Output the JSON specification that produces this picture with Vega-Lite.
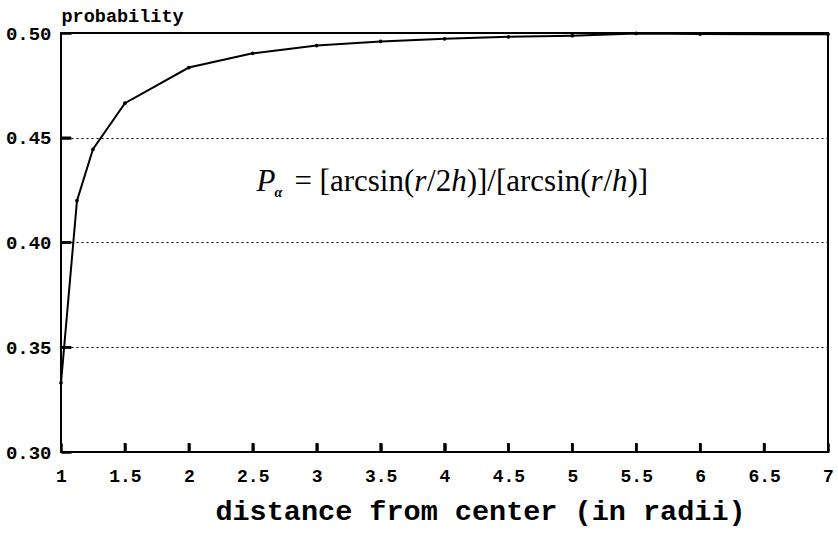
{
  "$schema": "https://vega.github.io/schema/vega-lite/v6.json",
  "width": 767,
  "height": 419,
  "autosize": {"type": "none"},
  "padding": {"left": 61, "top": 33, "right": 10, "bottom": 82},
  "background": "white",
  "config": {
    "view": {"stroke": "black", "strokeWidth": 2},
    "axis": {"domain": false},
    "text": {"baseline": "alphabetic", "align": "left", "font": "Liberation Serif", "fontSize": 31, "color": "black", "dy": 8}
  },
  "resolve": {"axis": {"x": "independent", "y": "independent"}},
  "datasets": {
    "curve": [
      {"d": 1.0, "p": 0.333},
      {"d": 1.125, "p": 0.420},
      {"d": 1.25, "p": 0.4445},
      {"d": 1.5, "p": 0.4665},
      {"d": 2.0, "p": 0.4835},
      {"d": 2.5, "p": 0.4903},
      {"d": 3.0, "p": 0.4940},
      {"d": 3.5, "p": 0.4960},
      {"d": 4.0, "p": 0.4972},
      {"d": 4.5, "p": 0.4982},
      {"d": 5.0, "p": 0.4987},
      {"d": 5.5, "p": 0.4998},
      {"d": 6.0, "p": 0.4995},
      {"d": 7.0, "p": 0.4994}
    ],
    "xticks": [
      {"d": 1.5, "p": 0.30}, {"d": 2, "p": 0.30}, {"d": 2.5, "p": 0.30}, {"d": 3, "p": 0.30},
      {"d": 3.5, "p": 0.30}, {"d": 4, "p": 0.30}, {"d": 4.5, "p": 0.30}, {"d": 5, "p": 0.30},
      {"d": 5.5, "p": 0.30}, {"d": 6, "p": 0.30}, {"d": 6.5, "p": 0.30}
    ],
    "yticks": [
      {"d": 1, "p": 0.35}, {"d": 1, "p": 0.40}, {"d": 1, "p": 0.45}
    ],
    "note": [
      {"d": 2.53, "p": 0.4286, "part": "P", "piece": 1},
      {"d": 2.53, "p": 0.4286, "part": "α", "piece": 2},
      {"d": 2.53, "p": 0.4286, "part": "=", "piece": 3},
      {"d": 2.53, "p": 0.4286, "part": "[arcsin(", "piece": 4},
      {"d": 2.53, "p": 0.4286, "part": "r", "piece": 5},
      {"d": 2.53, "p": 0.4286, "part": "/2", "piece": 6},
      {"d": 2.53, "p": 0.4286, "part": "h", "piece": 7},
      {"d": 2.53, "p": 0.4286, "part": ")]/[arcsin(", "piece": 8},
      {"d": 2.53, "p": 0.4286, "part": "r", "piece": 9},
      {"d": 2.53, "p": 0.4286, "part": "/", "piece": 10},
      {"d": 2.53, "p": 0.4286, "part": "h", "piece": 11},
      {"d": 2.53, "p": 0.4286, "part": ")]", "piece": 12}
    ]
  },
  "layer": [
    {
      "data": {"name": "curve"},
      "mark": {"type": "line", "color": "black", "strokeWidth": 2, "clip": true},
      "encoding": {
        "x": {
          "field": "d", "type": "quantitative",
          "scale": {"domain": [1, 7], "nice": false, "zero": false},
          "axis": {
            "orient": "bottom",
            "offset": -9,
            "values": [1, 1.5, 2, 2.5, 3, 3.5, 4, 4.5, 5, 5.5, 6, 6.5, 7],
            "format": "~g",
            "grid": false,
            "ticks": true,
            "tickSize": 9,
            "tickWidth": 2.5,
            "tickColor": "black",
            "tickOpacity": 1,
            "labelFont": "Liberation Mono",
            "labelFontWeight": "bold",
            "labelFontSize": 18,
            "labelColor": "black",
            "labelPadding": 15,
            "labelFlush": false,
            "title": "distance from center (in radii)",
            "titleFont": "Liberation Mono",
            "titleFontWeight": "bold",
            "titleFontSize": 28.5,
            "titleColor": "black",
            "titlePadding": 11,
            "titleX": 419,
            "titleAnchor": "middle",
            "zindex": 2
          }
        },
        "y": {
          "field": "p", "type": "quantitative",
          "scale": {"domain": [0.30, 0.50], "nice": false, "zero": false},
          "axis": {
            "orient": "left",
            "offset": -10,
            "values": [0.30, 0.35, 0.40, 0.45, 0.50],
            "format": ".2f",
            "grid": true,
            "gridColor": "black",
            "gridDash": [2, 3],
            "gridWidth": 1.2,
            "gridOpacity": 1,
            "ticks": true,
            "tickSize": 10,
            "tickWidth": 2.5,
            "tickColor": "black",
            "tickOpacity": 1,
            "labelFont": "Liberation Mono",
            "labelFontWeight": "bold",
            "labelFontSize": 19,
            "labelColor": "black",
            "labelPadding": 10,
            "labelFlush": false,
            "title": "probability",
            "titleFont": "Liberation Mono",
            "titleFontWeight": "bold",
            "titleFontSize": 18.5,
            "titleColor": "black",
            "titleAngle": 0,
            "titleAlign": "left",
            "titleBaseline": "bottom",
            "titleX": -10,
            "titleY": -8,
            "zindex": 2
          }
        }
      }
    },
    {
      "data": {"name": "curve"},
      "mark": {"type": "point", "filled": true, "color": "black", "size": 14, "opacity": 1},
      "encoding": {
        "x": {"field": "d", "type": "quantitative", "axis": null},
        "y": {"field": "p", "type": "quantitative", "axis": null}
      }
    },
    {
      "data": {"name": "xticks"},
      "mark": {"type": "point", "shape": "M0,0L0,-2", "filled": false, "stroke": "black", "strokeWidth": 2.5, "size": 81, "opacity": 1},
      "encoding": {
        "x": {"field": "d", "type": "quantitative", "axis": null},
        "y": {"field": "p", "type": "quantitative", "axis": null}
      }
    },
    {
      "data": {"name": "yticks"},
      "mark": {"type": "point", "shape": "M0,0L2,0", "filled": false, "stroke": "black", "strokeWidth": 2.5, "size": 100, "opacity": 1},
      "encoding": {
        "x": {"field": "d", "type": "quantitative", "axis": null},
        "y": {"field": "p", "type": "quantitative", "axis": null}
      }
    },
    {"data": {"name": "note"}, "transform": [{"filter": "datum.piece == 1"}],
      "mark": {"type": "text", "fontStyle": "italic", "dx": 0},
      "encoding": {"x": {"field": "d", "type": "quantitative", "axis": null}, "y": {"field": "p", "type": "quantitative", "axis": null}, "text": {"field": "part"}}},
    {"data": {"name": "note"}, "transform": [{"filter": "datum.piece == 2"}],
      "mark": {"type": "text", "fontStyle": "italic", "fontWeight": "bold", "fontSize": 14, "dx": 18, "dy": 14},
      "encoding": {"x": {"field": "d", "type": "quantitative", "axis": null}, "y": {"field": "p", "type": "quantitative", "axis": null}, "text": {"field": "part"}}},
    {"data": {"name": "note"}, "transform": [{"filter": "datum.piece == 3"}],
      "mark": {"type": "text", "dx": 38},
      "encoding": {"x": {"field": "d", "type": "quantitative", "axis": null}, "y": {"field": "p", "type": "quantitative", "axis": null}, "text": {"field": "part"}}},
    {"data": {"name": "note"}, "transform": [{"filter": "datum.piece == 4"}],
      "mark": {"type": "text", "dx": 63},
      "encoding": {"x": {"field": "d", "type": "quantitative", "axis": null}, "y": {"field": "p", "type": "quantitative", "axis": null}, "text": {"field": "part"}}},
    {"data": {"name": "note"}, "transform": [{"filter": "datum.piece == 5"}],
      "mark": {"type": "text", "fontStyle": "italic", "dx": 157.7},
      "encoding": {"x": {"field": "d", "type": "quantitative", "axis": null}, "y": {"field": "p", "type": "quantitative", "axis": null}, "text": {"field": "part"}}},
    {"data": {"name": "note"}, "transform": [{"filter": "datum.piece == 6"}],
      "mark": {"type": "text", "dx": 170.5},
      "encoding": {"x": {"field": "d", "type": "quantitative", "axis": null}, "y": {"field": "p", "type": "quantitative", "axis": null}, "text": {"field": "part"}}},
    {"data": {"name": "note"}, "transform": [{"filter": "datum.piece == 7"}],
      "mark": {"type": "text", "fontStyle": "italic", "dx": 194.6},
      "encoding": {"x": {"field": "d", "type": "quantitative", "axis": null}, "y": {"field": "p", "type": "quantitative", "axis": null}, "text": {"field": "part"}}},
    {"data": {"name": "note"}, "transform": [{"filter": "datum.piece == 8"}],
      "mark": {"type": "text", "dx": 210.1},
      "encoding": {"x": {"field": "d", "type": "quantitative", "axis": null}, "y": {"field": "p", "type": "quantitative", "axis": null}, "text": {"field": "part"}}},
    {"data": {"name": "note"}, "transform": [{"filter": "datum.piece == 9"}],
      "mark": {"type": "text", "fontStyle": "italic", "dx": 334},
      "encoding": {"x": {"field": "d", "type": "quantitative", "axis": null}, "y": {"field": "p", "type": "quantitative", "axis": null}, "text": {"field": "part"}}},
    {"data": {"name": "note"}, "transform": [{"filter": "datum.piece == 10"}],
      "mark": {"type": "text", "dx": 346.8},
      "encoding": {"x": {"field": "d", "type": "quantitative", "axis": null}, "y": {"field": "p", "type": "quantitative", "axis": null}, "text": {"field": "part"}}},
    {"data": {"name": "note"}, "transform": [{"filter": "datum.piece == 11"}],
      "mark": {"type": "text", "fontStyle": "italic", "dx": 355.4},
      "encoding": {"x": {"field": "d", "type": "quantitative", "axis": null}, "y": {"field": "p", "type": "quantitative", "axis": null}, "text": {"field": "part"}}},
    {"data": {"name": "note"}, "transform": [{"filter": "datum.piece == 12"}],
      "mark": {"type": "text", "dx": 370.9},
      "encoding": {"x": {"field": "d", "type": "quantitative", "axis": null}, "y": {"field": "p", "type": "quantitative", "axis": null}, "text": {"field": "part"}}}
  ]
}
